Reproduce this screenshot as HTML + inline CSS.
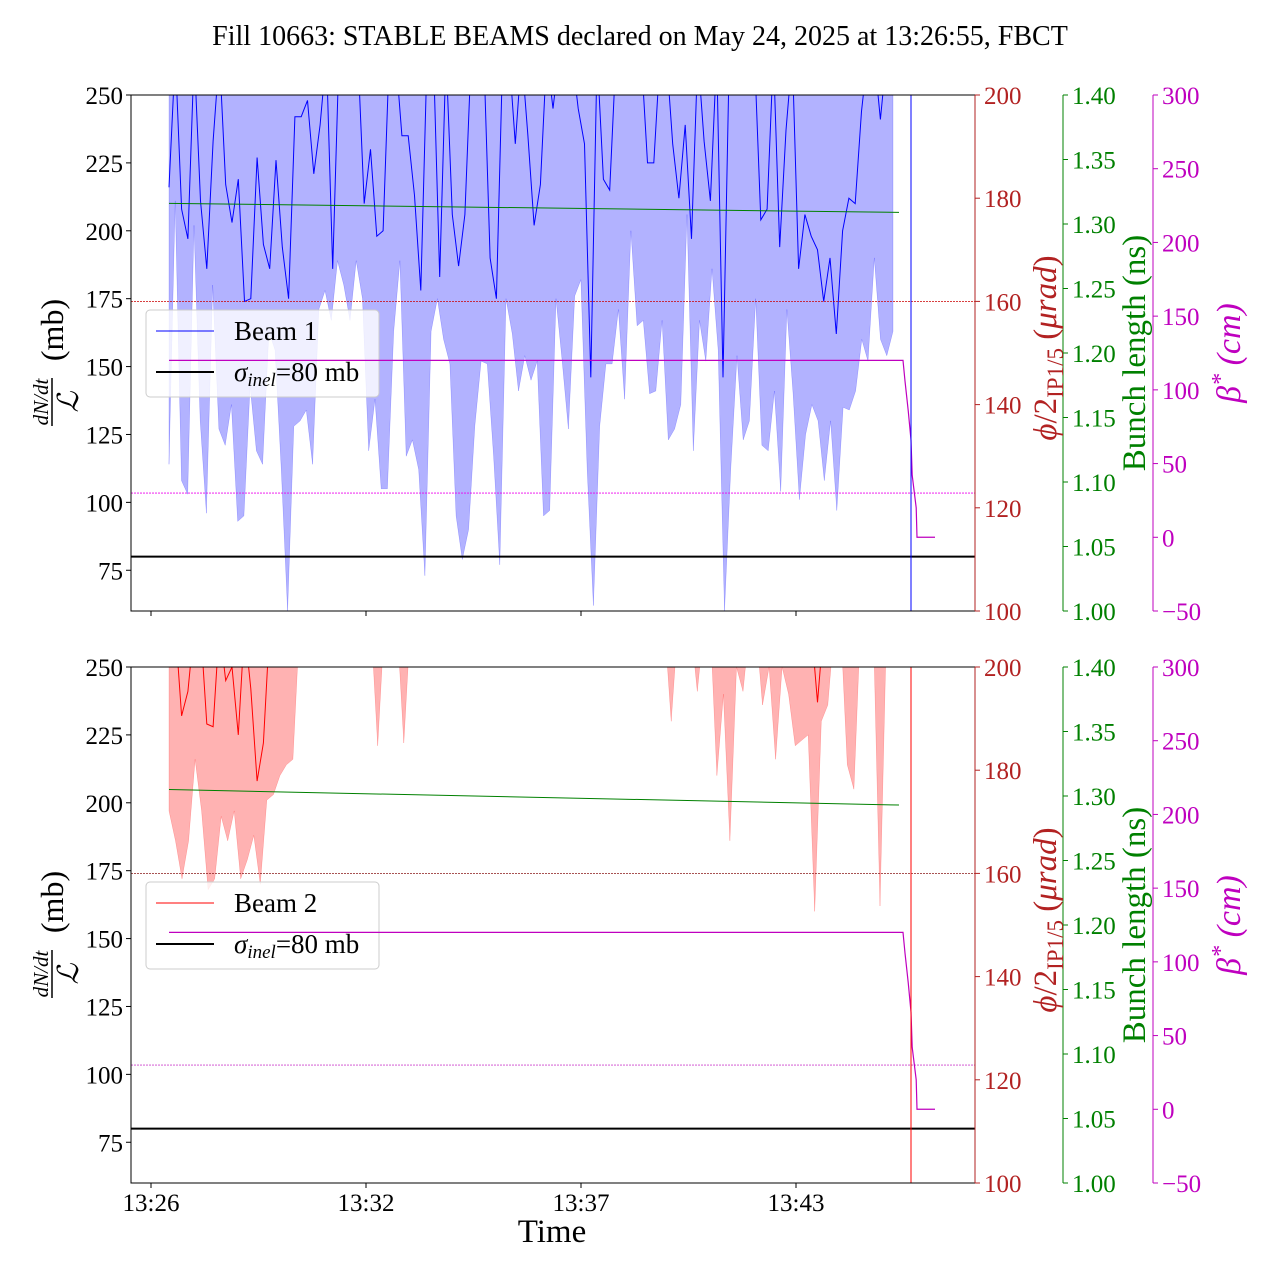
<!DOCTYPE html>
<html><head><meta charset="utf-8"><style>
body{margin:0;background:#fff}
svg{display:block;font-family:"Liberation Serif",serif}
</style></head><body>
<svg id="chart" width="1280" height="1280" viewBox="0 0 1280 1280"></svg>
<script>
// ---- data ----
const tStart = 0.45, tEnd = 18.55;           // minutes after 13:26
const tickTimes = [0, 5.375, 10.75, 16.125];
const tickLabels = ["13:26", "13:32", "13:37", "13:43"];
const b1Hi = [216,265,208,197,265,211,186,233,265,217,203,219,174,175,227,195,186,226,194,175,242,242,248,221,239,265,186,265,265,265,265,210,230,198,200,265,265,235,235,213,178,265,265,183,265,206,187,206,265,265,265,190,175,265,265,232,265,235,202,217,265,245,265,265,265,245,232,146,265,219,215,265,265,265,265,265,225,225,265,265,232,212,239,197,265,233,211,265,146,265,265,265,265,265,204,208,265,194,237,265,186,206,198,193,174,190,162,200,212,210,244,265,265,241,265,265];
const b1Lo = [114,211,108,103,202,130,96,180,127,121,136,93,95,143,119,114,163,156,112,60,128,130,134,114,171,178,167,189,180,167,189,175,119,138,105,105,163,189,117,123,112,73,163,175,160,151,95,79,90,128,152,151,117,77,175,162,141,154,145,152,95,97,175,152,127,176,182,112,62,128,151,151,171,138,200,165,167,140,141,167,123,127,136,206,119,167,152,186,156,60,112,154,123,130,175,121,119,141,104,171,140,101,125,136,130,108,130,97,135,134,141,160,152,190,160,154,163];
const b2Hi = [265,265,232,241,265,265,229,228,265,245,250,225,265,242,208,222,265,
265,265,265,265,265,265,265,265,265,265,265,265,265,265,265,265,265,265,265,265,265,265,265,265,265,265,265,265,265,265,265,265,265,265,265,265,265,265,265,265,265,265,265,265,265,265,265,265,265,265,265,265,265,265,265,265,265,265,265,265,265,265,265,265,265,265,265,265,265,265,265,265,265,265,265,265,265,265,265,265,265,265,265,265,265,265,
237,265,265,265,265,265,265,265,265,265,265,265,265];
const b2Lo = [197,186,172,186,216,197,168,172,195,186,197,172,179,188,170,201,203,210,214,216,
265,265,265,265,265,265,265,265,265,265,265,265,221,265,265,265,222,
265,265,265,265,265,265,265,265,265,265,265,265,265,265,265,265,265,265,265,265,265,265,265,265,265,265,265,265,265,265,265,265,265,265,265,265,265,265,265,265,
230,265,265,265,241,265,265,210,240,186,250,241,265,265,236,250,216,250,240,221,223,225,160,230,236,265,265,214,205,265,265,265,162,265,265];
const sigma = 80;
const blTimes1 = [0.45, 18.7], blVals1 = [1.316, 1.309];
const blTimes2 = [0.45, 18.7], blVals2 = [1.305, 1.293];
const phiTimes = [-0.5, 20.6], phiVals = [160, 160];
const betaRefTimes = [-0.5, 20.6], betaRefVals = [30, 30];
const betaTimes = [0.45, 18.8, 18.85, 18.93, 19.0, 19.03, 19.13, 19.15, 19.6];
const betaVals = [120, 120, 106, 86, 66, 42, 20, 0, 0];
const vlineTime = 19.0;

// ---- scales ----
const X0=131, X1=975, TMIN=-0.5, TMAX=20.6;
const xs = t => X0 + (t-TMIN)*(X1-X0)/(TMAX-TMIN);
const PH=516;
const ymb = (v,top) => top + (250-v)*PH/190;
const yphi = (v,top) => top + (200-v)*PH/100;
const ybl = (v,top) => top + (1.4-v)*PH/0.4;
const ybeta = (v,top) => top + (300-v)*PH/350;
const TF=25;

const svg = document.getElementById('chart');
const NS='http://www.w3.org/2000/svg';
function mk(tag, attrs, parent, text){
  const e=document.createElementNS(NS,tag);
  for(const k in attrs) e.setAttribute(k,attrs[k]);
  if(text!==undefined) e.textContent=text;
  (parent||svg).appendChild(e); return e;
}
const gridT = (arr) => arr.map((_,i)=> tStart + i*(tEnd-tStart)/(arr.length-1));

let t=mk('text',{x:640,y:45,'text-anchor':'middle','font-size':28});
t.textContent='Fill 10663: STABLE BEAMS declared on May 24, 2025 at 13:26:55, FBCT';



function panel(top, hi, lo, lineColor, fillColor, beamLabel, blT, blV, refColor1, refColor2, bottom){
  const g=mk('g',{});
  
  
  const cid='clip'+top;
  const cp=mk('clipPath',{id:cid},g); mk('rect',{x:X0,y:top,width:X1-X0,height:PH},cp);
  const pg=mk('g',{'clip-path':'url(#'+cid+')'},g);
  const th=gridT(hi), tl=gridT(lo);
  let d='M'+xs(tl[0])+','+(top-20);
  d+=' L'+xs(tl[tl.length-1])+','+(top-20);
  for(let i=lo.length-1;i>=0;i--) d+=' L'+xs(tl[i]).toFixed(1)+','+ymb(lo[i],top).toFixed(1);
  d+='Z';
  const f=mk('path',{d:d,fill:fillColor,stroke:fillColor,'stroke-width':0.5,'fill-opacity':0.3,'stroke-opacity':0.3},pg);
  
  
  const ln=mk('polyline',{points:hi.map((v,i)=>xs(th[i]).toFixed(1)+','+ymb(v,top).toFixed(1)).join(' '),fill:'none',stroke:lineColor,'stroke-width':1},pg);
  
  
  const sl=mk('line',{x1:X0,x2:X1,y1:ymb(sigma,top),y2:ymb(sigma,top),stroke:'#000','stroke-width':2},pg);
  
  
  // legend
  const lg=mk('g',{},g);
  
  
  const ly=top+215;
  mk('rect',{x:146,y:ly,width:233,height:87,rx:4,fill:'#fff','fill-opacity':0.8,stroke:'#ccc'},lg);
  mk('line',{x1:156,x2:214,y1:ly+21,y2:ly+21,stroke:lineColor,'stroke-width':1},lg);
  mk('text',{x:234,y:ly+30,'font-size':27},lg,beamLabel);
  mk('line',{x1:156,x2:214,y1:ly+62,y2:ly+62,stroke:'#000','stroke-width':2},lg);
  const st=mk('text',{x:234,y:ly+71,'font-size':27},lg);
  mk('tspan',{'font-style':'italic'},st,'σ');
  mk('tspan',{'font-style':'italic','font-size':19,dy:5},st,'inel');
  mk('tspan',{dy:-5},st,'=80 mb');
  // twin lines
  const rg=mk('g',{'clip-path':'url(#'+cid+')'},g);
  const pl=mk('line',{x1:xs(phiTimes[0]),x2:xs(phiTimes[1]),y1:yphi(phiVals[0],top),y2:yphi(phiVals[1],top),stroke:refColor1,'stroke-width':0.8,'stroke-dasharray':'2,1'},rg);
  
  
  const br=mk('line',{x1:xs(betaRefTimes[0]),x2:xs(betaRefTimes[1]),y1:ybeta(betaRefVals[0],top),y2:ybeta(betaRefVals[1],top),stroke:refColor2,'stroke-width':0.8,'stroke-dasharray':'2,1'},rg);
  
  
  const gl=mk('polyline',{points:blV.map((v,i)=>xs(blT[i])+','+ybl(v,top)).join(' '),fill:'none',stroke:'#008000','stroke-width':1},rg);
  
  
  const bl=mk('polyline',{points:betaVals.map((v,i)=>xs(betaTimes[i])+','+ybeta(v,top)).join(' '),fill:'none',stroke:'#bf00bf','stroke-width':1.2},rg);
  
  
  const vl=mk('line',{x1:xs(vlineTime),x2:xs(vlineTime),y1:top,y2:top+PH,stroke:lineColor,'stroke-width':1},rg);
  
  
  mk('rect',{x:X0,y:top,width:X1-X0,height:PH,fill:'none',stroke:'#000','stroke-width':1},g);
  for(let v=75; v<=250; v+=25){
    const y=ymb(v,top);
    mk('line',{x1:X0-5,x2:X0,y1:y,y2:y,stroke:'#000'},g);
    mk('text',{x:X0-8,y:y+9,'text-anchor':'end','font-size':TF},g,String(v));
  }
  tickTimes.forEach((tt,i)=>{
    const x=xs(tt);
    mk('line',{x1:x,x2:x,y1:top+PH,y2:top+PH+5,stroke:'#000'},g);
    if(bottom) mk('text',{x:x,y:top+PH+28,'text-anchor':'middle','font-size':TF},g,tickLabels[i]);
  });
  function raxis(x,color,vals,fn,fmt){
    mk('line',{x1:x,x2:x,y1:top,y2:top+PH,stroke:color,'stroke-width':1},g);
    vals.forEach(v=>{const y=fn(v,top);
      mk('line',{x1:x,x2:x+5,y1:y,y2:y,stroke:color},g);
      mk('text',{x:x+9,y:y+9,'font-size':TF,fill:color},g,fmt(v));});
  }
  raxis(975,'#b22222',[100,120,140,160,180,200],yphi,v=>String(v));
  raxis(1063,'#008000',[1.0,1.05,1.1,1.15,1.2,1.25,1.3,1.35,1.4],ybl,v=>v.toFixed(2));
  raxis(1153,'#bf00bf',[-50,0,50,100,150,200,250,300],ybeta,v=>v<0?'−'+(-v):String(v));
  const cy=top+258;
  const yl=mk('g',{transform:`translate(52,${cy+5}) rotate(-90)`},g);
  
  
  mk('text',{x:-44,y:-4,'text-anchor':'middle','font-size':21,'font-style':'italic'},yl,'dN/dt');
  mk('line',{x1:-68,x2:-20,y1:0,y2:0,stroke:'#000','stroke-width':1.5},yl);
  mk('text',{x:-44,y:26,'text-anchor':'middle','font-size':29,'font-style':'italic'},yl,'ℒ');
  mk('text',{x:28,y:11,'text-anchor':'middle','font-size':32},yl,'(mb)');
  const r1=mk('text',{transform:`translate(1056,${cy-5}) rotate(-90)`,'text-anchor':'middle','font-size':33,fill:'#b22222'},g);
  mk('tspan',{'font-style':'italic'},r1,'ϕ');
  mk('tspan',{},r1,'/2');
  mk('tspan',{'font-size':23,dy:7},r1,'IP1/5');
  mk('tspan',{dy:-7},r1,' (');
  mk('tspan',{'font-style':'italic'},r1,'μrad');
  mk('tspan',{},r1,')');
  
  
  const r2=mk('text',{transform:`translate(1145,${cy}) rotate(-90)`,'text-anchor':'middle','font-size':33,fill:'#008000'},g,'Bunch length (ns)');
  
  
  const r3=mk('text',{transform:`translate(1240,${cy}) rotate(-90)`,'text-anchor':'middle','font-size':34,fill:'#bf00bf','font-style':'italic'},g);
  mk('tspan',{},r3,'β');
  mk('tspan',{'font-size':24,dy:-12},r3,'*');
  mk('tspan',{dy:12},r3,' (cm)');
  
  
}
panel(95, b1Hi, b1Lo, '#0000ff', '#0000ff', 'Beam 1', blTimes1, blVals1, '#cc0000', '#ee00ee', false);
panel(667, b2Hi, b2Lo, '#ff0000', '#ff0000', 'Beam 2', blTimes2, blVals2, '#8b1a1a', '#cc44cc', true);
const xt=mk('text',{x:552,y:1242,'text-anchor':'middle','font-size':33},svg,'Time');


</script>
</body></html>
